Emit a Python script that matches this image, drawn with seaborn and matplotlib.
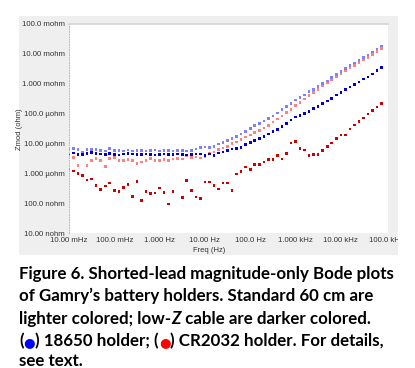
import numpy as np
import pandas as pd
import matplotlib
matplotlib.use("Agg")
import matplotlib.pyplot as plt
import seaborn as sns
from matplotlib.patches import Rectangle

# frequency sweep, 10 points per decade (Hz)
mantissa = [1.0, 1.259, 1.585, 1.995, 2.512, 3.162, 3.981, 5.012, 6.310, 7.943]
decades = [0.01, 0.1, 1, 10, 100, 1000, 10000]
freq = [m * d for d in decades for m in mantissa]

nan = np.nan
# |Z| in micro-ohm
std_18650 = [6.7, 6.9, 6.2, 5.0, 6.2, 6.2, 6.2, 5.9, 5.6, 6.7,
             5.9, 5.7, 5.6, 6.0, 5.5, 5.7, 5.8, 5.5, 5.7, 6.1,
             5.6, 5.7, 5.8, 5.6, 5.9, 5.8, 5.5, 5.9, 6.6, 7.2,
             7.5, 7.2, 7.8, 9.6, 10.5, 12.3, 14.5, 17.2, 20.6, 24.8,
             31.6, 39, 46, 56, 67, 83, 106, 136, 170, 222,
             285, 351, 419, 541, 650, 790, 1000, 1250, 1600, 2050,
             2550, 3180, 4000, 4900, 5900, 7400, 9160, 11500, 14500, 18300]
std_cr2032 = [nan, 3.33, 1.84, nan, 1.84, 2.7, 3.18, 2.7, 1.72, 3.18,
              3.33, 2.7, 2.7, 2.85, 2.7, 2.1, 2.4, 2.65, 3.18, 2.7,
              2.7, 2.85, 2.7, 3.0, 3.18, 3.0, 3.8, 3.33, 3.5, 3.25,
              3.68, 4.79, 5.17, 6.16, 7.03, 7.96, 9.8, 11.2, 13.3, 16.4,
              19.2, 23.4, 27.4, 32.9, 40, 52, 66, 84, 108, 140,
              185, 240, 310, 400, 510, 650, 830, 1060, 1350, 1700,
              2150, 2700, 3350, 4100, 5000, 6200, 7600, 9500, 11800, 14900]
lowz_18650 = [4.4, 4.8, 4.3, 4.3, 4.5, 4.9, 4.5, 4.4, 4.2, 4.5,
              4.3, 4.1, 4.4, 4.6, 4.4, 4.2, 4.3, 4.4, 4.3, 4.1,
              4.3, 4.4, 4.2, 4.3, 4.4, 4.2, 4.1, 4.3, 4.4, 4.43,
              3.88, 4.43, 3.98, 4.79, 5.17, 5.71, 6.52, 6.82, 7.36, 9.07,
              10.8, 12.6, 14.4, 17.2, 20.7, 25, 29.4, 37, 47, 61,
              77, 87, 101, 118, 145, 174, 215, 265, 323, 419,
              513, 630, 778, 953, 1140, 1440, 1680, 2120, 2730, 3520]
lowz_cr2032 = [1.39, 1.19, 0.99, 0.83, 0.60, 0.64, 0.39, 0.28, 0.38, 0.48,
               0.26, 0.24, 0.33, 0.42, 0.17, 0.52, 0.12, 0.24, 0.21, 0.22,
               0.32, 0.23, 0.094, 0.24, nan, 0.156, 0.58, 0.26, 0.16, 0.144,
               0.51, 0.51, 0.39, 0.30, 0.47, 0.47, 0.27, 0.95, 1.13, 1.63,
               1.35, 1.94, 1.94, 2.39, 2.85, 2.85, 3.88, 3.01, 4.53, 10.3,
               11.4, 6.82, 6.03, 3.98, 4.20, 4.30, 5.85, 7.96, 10.3, 14.4,
               19.2, 19.2, 30.5, 41.5, 53.5, 71.1, 96.8, 128, 166, 214]

xticks = [0.01, 0.1, 1, 10, 100, 1000, 10000, 100000]
xtick_labels = ["10.00 mHz", "100.0 mHz", "1.000 Hz", "10.00 Hz",
                "100.0 Hz", "1.000 kHz", "10.00 kHz", "100.0 kHz"]
yticks = [1e-8, 1e-7, 1e-6, 1e-5, 1e-4, 1e-3, 1e-2, 1e-1]
ytick_labels = ["10.00 nohm", "100.0 nohm", "1.000 µohm", "10.00 µohm",
                "100.0 µohm", "1.000 mohm", "10.00 mohm", "100.0 mohm"]

series = [("std CR2032", std_cr2032), ("std 18650", std_18650),
          ("lowZ CR2032", lowz_cr2032), ("lowZ 18650", lowz_18650)]
palette = {"std CR2032": "#ff8080", "std 18650": "#8080ff",
           "lowZ CR2032": "#c80000", "lowZ 18650": "#0000cc"}

df = pd.concat([pd.DataFrame({"freq": freq, "zmod": np.array(v) * 1e-6, "series": name})
                for name, v in series], ignore_index=True).dropna()

sns.set_style("white")
plt.rcParams["font.family"] = ["Liberation Sans", "DejaVu Sans"]

W, H = 415, 368
fig = plt.figure(figsize=(W / 100, H / 100), dpi=100)
fig.patch.set_facecolor("white")


def fx(px):
    return px / W


def fy(py):
    return 1 - py / H


# grey chart panel (behind the axes)
fig.patches.append(Rectangle((fx(19), fy(255)), fx(398) - fx(19), fy(16) - fy(255),
                             transform=fig.transFigure, facecolor="#efefef",
                             edgecolor="none", zorder=-1))

ax = fig.add_axes([fx(69), fy(233), fx(388) - fx(69), fy(24) - fy(233)])
sns.scatterplot(data=df, x="freq", y="zmod", hue="series", palette=palette,
                marker="s", s=3.5, linewidth=0, legend=False, ax=ax)
ax.set_xscale("log")
ax.set_yscale("log")
ax.set_xlim(0.01, 1.1e5)
ax.set_ylim(1e-8, 1e-1)
ax.set_xticks(xticks)
ax.set_xticklabels(xtick_labels)
ax.set_yticks(yticks)
ax.set_yticklabels(ytick_labels)
ax.minorticks_off()
ax.tick_params(length=0, labelsize=5.6, colors="#333333", pad=3)
ax.set_xlabel("")
ax.set_ylabel("")
for side in ["bottom", "right"]:
    ax.spines[side].set_visible(False)
ax.spines["top"].set_color("#d4d4d4")
ax.spines["top"].set_linewidth(1.2)
ax.spines["left"].set_color("#b8b8b8")
ax.spines["left"].set_linewidth(0.7)
ax.spines["left"].set_linestyle(":")

fig.text(fx(209), fy(250), "Freq (Hz)", ha="center", va="center", fontsize=5.5, color="#333333")
fig.text(fx(19.5), fy(129), "Zmod (ohm)", ha="center", va="center", rotation=90,
         fontsize=5.5, color="#333333")

# white margin clips the overflowing last tick label
fig.add_artist(Rectangle((fx(398), 0), 1 - fx(398), 1, transform=fig.transFigure,
                         facecolor="white", edgecolor="none", zorder=10))

# caption
cap_font = dict(family=["Lato", "DejaVu Sans"], weight="bold", fontsize=12.2, color="black")
dot_font = dict(family=["DejaVu Sans"], fontsize=9.5)
renderer = fig.canvas.get_renderer()


def caption_line(pieces, y_base, x0=19):
    x = x0
    for txt, extra in pieces:
        kw = dict(cap_font)
        kw.update(extra)
        t = fig.text(fx(x), fy(y_base), txt, ha="left", va="baseline", **kw)
        x += t.get_window_extent(renderer).width


caption_line([("Figure 6. Shorted-lead magnitude-only Bode plots", {})], 279.5)
caption_line([("of Gamry\u2019s battery holders. Standard 60 cm are", {})], 301.5)
caption_line([("lighter colored; low-", {}), ("Z", {"style": "italic"}),
              (" cable are darker colored.", {})], 324)
caption_line([("(", {}), ("\u25cf", dict(dot_font, color="#0000ff")), (") 18650 holder; (", {}),
              ("\u25cf", dict(dot_font, color="#ff0000")), (") CR2032 holder. For details,", {})],
             346.5)
caption_line([("see text.", {})], 365.5)

fig.savefig("out.png", dpi=100)
